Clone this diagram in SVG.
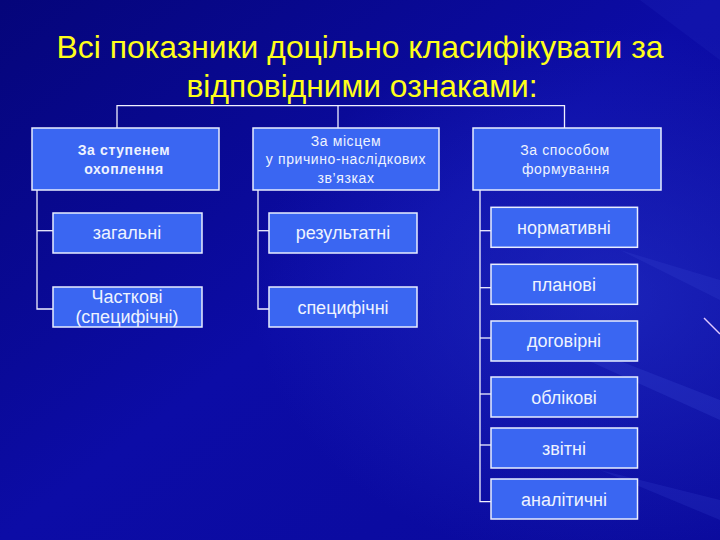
<svg xmlns="http://www.w3.org/2000/svg" width="720" height="540" viewBox="0 0 720 540">
<defs>
<linearGradient id="bg" x1="0" y1="0" x2="1" y2="1">
<stop offset="0" stop-color="#05057a"/>
<stop offset="0.5" stop-color="#0c0ca6"/>
<stop offset="1" stop-color="#0a0a9c"/>
</linearGradient>
<radialGradient id="glow" cx="0.85" cy="0.55" r="0.5">
<stop offset="0" stop-color="#2a3ad0" stop-opacity="0.5"/>
<stop offset="1" stop-color="#2a3ad0" stop-opacity="0"/>
</radialGradient>
<style>
.box{fill:#3a66f2;stroke:#e8eeff;stroke-width:1.5}
.t{font-family:"Liberation Sans",Arial,sans-serif;fill:#eef3ff;text-anchor:middle}
.h{font-size:14px;letter-spacing:0.6px}
.c{font-size:18px}
.ttl{font-family:"Liberation Sans",Arial,sans-serif;fill:#ffff1a;font-size:32px;text-anchor:middle}
.ln{fill:none;stroke:#f0f0ff;stroke-width:1.3}
.ray{fill:#3a4ad8}
</style>
</defs>
<rect width="720" height="540" fill="url(#bg)"/>
<rect width="720" height="540" fill="url(#glow)"/>
<polygon class="ray" opacity="0.25" points="720,400 720,420 520,330 530,326"/>
<polygon class="ray" opacity="0.2" points="720,280 720,300 620,250"/>
<polygon class="ray" opacity="0.2" points="720,500 720,520 600,470"/>
<polygon class="ray" opacity="0.12" points="640,0 720,0 720,60"/>
<line x1="704" y1="318" x2="720" y2="334" stroke="#e0c8ff" stroke-width="1.5"/>

<g id="title">
<text class="ttl" x="360" y="58" textLength="607" lengthAdjust="spacingAndGlyphs">Всі показники доцільно класифікувати за</text>
<text class="ttl" x="362" y="97" textLength="351" lengthAdjust="spacingAndGlyphs">відповідними ознаками:</text>
</g>

<g id="connectors">
<polyline class="ln" points="117,128 117,105.7 564.5,105.7 564.5,128"/>
<line class="ln" x1="338" y1="105.7" x2="338" y2="128"/>
<polyline class="ln" points="37,190 37,309 53,309"/>
<line class="ln" x1="37" y1="230.7" x2="53" y2="230.7"/>
<polyline class="ln" points="258,190 258,309 269,309"/>
<line class="ln" x1="258" y1="230.7" x2="269" y2="230.7"/>
<polyline class="ln" points="480,190 480,501.7 491,501.7"/>
<line class="ln" x1="480" y1="230.7" x2="491" y2="230.7"/>
<line class="ln" x1="480" y1="287.7" x2="491" y2="287.7"/>
<line class="ln" x1="480" y1="338" x2="491" y2="338"/>
<line class="ln" x1="480" y1="394" x2="491" y2="394"/>
<line class="ln" x1="480" y1="445" x2="491" y2="445"/>
</g>

<g id="n1">
<rect class="box" x="32" y="128" width="187" height="62"/>
<text class="t h" x="124" y="155" font-weight="bold" letter-spacing="0.8">За ступенем</text>
<text class="t h" x="124" y="174" font-weight="bold" letter-spacing="0.8">охоплення</text>
</g>
<g id="n2">
<rect class="box" x="253" y="128" width="186" height="62"/>
<text class="t h" x="346" y="146">За місцем</text>
<text class="t h" x="346" y="164">у причино-наслідкових</text>
<text class="t h" x="346" y="183">зв’язках</text>
</g>
<g id="n3">
<rect class="box" x="473" y="128" width="188" height="62"/>
<text class="t h" x="565" y="155">За способом</text>
<text class="t h" x="566" y="174">формування</text>
</g>

<g id="n1a">
<rect class="box" x="53" y="213" width="149" height="40"/>
<text class="t c" x="127" y="239">загальні</text>
</g>
<g id="n1b">
<rect class="box" x="53" y="287" width="149" height="40"/>
<text class="t c" x="127" y="303">Часткові</text>
<text class="t c" x="127" y="322.5">(специфічні)</text>
</g>

<g id="n2a">
<rect class="box" x="269" y="213" width="148" height="40"/>
<text class="t c" x="343" y="239">результатні</text>
</g>
<g id="n2b">
<rect class="box" x="269" y="287" width="148" height="40"/>
<text class="t c" x="343" y="314">специфічні</text>
</g>

<g id="n3a">
<rect class="box" x="491" y="207.3" width="146.5" height="40"/>
<text class="t c" x="564" y="234">нормативні</text>
</g>
<g id="n3b">
<rect class="box" x="491" y="264.3" width="146.5" height="40"/>
<text class="t c" x="564" y="291">планові</text>
</g>
<g id="n3c">
<rect class="box" x="491" y="321" width="146.5" height="40"/>
<text class="t c" x="564" y="347">договірні</text>
</g>
<g id="n3d">
<rect class="box" x="491" y="377" width="146.5" height="40"/>
<text class="t c" x="564" y="404">облікові</text>
</g>
<g id="n3e">
<rect class="box" x="491" y="428" width="146.5" height="40"/>
<text class="t c" x="564" y="455">звітні</text>
</g>
<g id="n3f">
<rect class="box" x="491" y="479" width="146.5" height="40"/>
<text class="t c" x="564" y="505.7">аналітичні</text>
</g>
</svg>
